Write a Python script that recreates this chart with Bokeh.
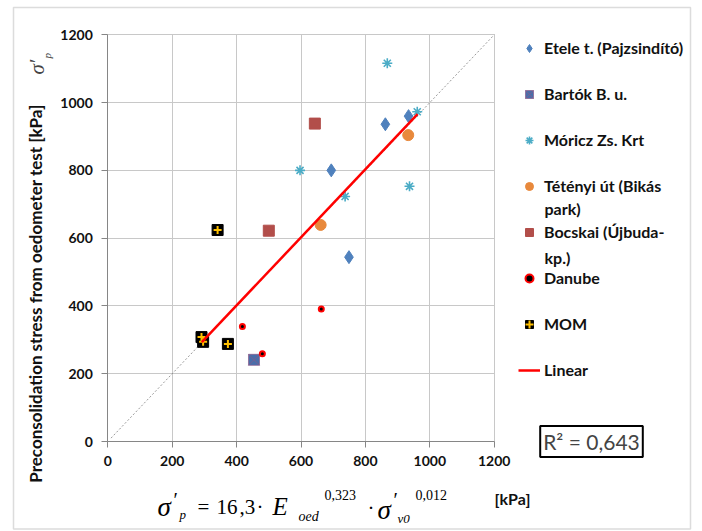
import math
from bokeh.plotting import figure
from bokeh.models import Label, Legend, LegendItem, FixedTicker, Range1d, BoxAnnotation
from bokeh.embed import file_html
from bokeh.resources import INLINE

# ---------------- data ----------------
x_ticks = [0, 200, 400, 600, 800, 1000, 1200]
y_ticks = [0, 200, 400, 600, 800, 1000, 1200]

etele_x = [694, 749, 862, 934]
etele_y = [800, 544, 936, 960]
bartok_x = [454]
bartok_y = [241]
moricz_x = [597, 737, 868, 937, 961]
moricz_y = [800, 723, 1116, 753, 973]
tetenyi_x = [661, 933]
tetenyi_y = [639, 904]
bocskai_x = [500, 643]
bocskai_y = [622, 938]
danube_x = [418, 480, 663]
danube_y = [339, 259, 391]
mom_x = [291, 296, 341, 373]
mom_y = [308, 294, 624, 288]
trend_x = [292, 962]
trend_y = [293, 966]
diag_x = [10, 1200]
diag_y = [10, 1200]

series_names = ["Etele t. (Pajzsindító)", "Bartók B. u.", "Móricz Zs. Krt",
                "Tétényi út (Bikás", "Bocskai (Újbuda-", "Danube", "MOM", "Linear"]
r2_text = "R² = 0,643"

# ---------------- layout (pixels) ----------------
W, H = 698, 530
X0, X1 = 107.3, 493.7     # pixel x of data 0 and 1200
Y0, Y1 = 441.0, 34.3      # pixel y of data 0 and 1200
KX = (X1 - X0) / 1200
KY = (Y0 - Y1) / 1200


def dx(px):
    return (px - X0) / KX


def dy(py):
    return (Y0 - py) / KY


FONT = "Lato"
SERIF = "Liberation Serif"
TXT = "#111111"

p = figure(output_backend="svg", toolbar_location=None, width=W, height=H,
           x_range=Range1d(dx(0), dx(W)), y_range=Range1d(dy(H), dy(0)),
           min_border=0, min_border_left=0, min_border_right=0,
           min_border_top=0, min_border_bottom=0)
p.outline_line_color = None
p.background_fill_color = "white"
p.border_fill_color = "white"

for ax, ticks in ((p.xaxis, x_ticks), (p.yaxis, y_ticks)):
    ax.ticker = FixedTicker(ticks=ticks)
    ax.fixed_location = 0
    ax.bounds = (0, 1200)
    ax.axis_line_color = "#868686"
    ax.axis_line_width = 1
    ax.major_tick_line_color = "#868686"
    ax.major_tick_out = 6
    ax.major_tick_in = 0
    ax.minor_tick_line_color = None
    ax.major_label_text_font = FONT
    ax.major_label_text_font_style = "bold"
    ax.major_label_text_font_size = "14px"
    ax.major_label_text_color = TXT
p.xaxis.major_label_standoff = 8
p.yaxis.major_label_standoff = 9

p.xgrid.ticker = FixedTicker(ticks=x_ticks)
p.ygrid.ticker = FixedTicker(ticks=y_ticks)
p.xgrid.bounds = (0, 1200)
p.ygrid.bounds = (0, 1200)
p.xgrid.cross_bounds = (0, 1200)
p.ygrid.cross_bounds = (0, 1200)
p.grid.grid_line_color = "#c8c8c8"
p.grid.grid_line_width = 1

# outer chart-area border
p.add_layout(BoxAnnotation(left=dx(13), right=dx(690), top=dy(7), bottom=dy(528.5),
                           fill_alpha=0, line_color="#8c8c8c", line_width=1.5,
                           level="underlay"))

# diagonal 1:1 line
p.line(diag_x, diag_y, line_color="#7f7f7f", line_width=0.8, line_dash="2 2")

# series
r_etele = p.scatter(etele_x, etele_y, marker="diamond", size=13,
                    fill_color="#4f81bd", line_color="#4f81bd")
r_bartok = p.scatter(bartok_x, bartok_y, marker="square_x", size=11,
                     fill_color="#4a6eaa", line_color="#8a5a8a", line_width=0.7)
r_moricz = p.scatter(moricz_x, moricz_y, marker="asterisk", size=10,
                     line_color="#4bacc6", line_width=1.6)
r_tet = p.scatter(tetenyi_x, tetenyi_y, marker="circle", size=11,
                  fill_color="#e8893c", line_color="#e8893c")
r_boc = p.scatter(bocskai_x, bocskai_y, marker="square", size=11,
                  fill_color="#b24e4a", line_color="#b24e4a")
r_dan = p.scatter(danube_x, danube_y, marker="circle", size=5,
                  fill_color="black", line_color="#ff0000", line_width=2)
r_mom1 = p.scatter(mom_x, mom_y, marker="square", size=11,
                   fill_color="black", line_color="black")
r_mom2 = p.scatter(mom_x, mom_y, marker="cross", size=8,
                   line_color="#ffc000", line_width=2)
r_lin = p.line(trend_x, trend_y, line_color="#ff0000", line_width=2.5)

items = [
    LegendItem(label=series_names[0], renderers=[r_etele]),
    LegendItem(label=series_names[1], renderers=[r_bartok]),
    LegendItem(label=series_names[2], renderers=[r_moricz]),
    LegendItem(label=series_names[3], renderers=[r_tet]),
    LegendItem(label=series_names[4], renderers=[r_boc]),
    LegendItem(label=series_names[5], renderers=[r_dan]),
    LegendItem(label=series_names[6], renderers=[r_mom1, r_mom2]),
    LegendItem(label=series_names[7], renderers=[r_lin]),
]
leg_top = 37.5
leg_h = 8 * 20 + 7 * 26
legend = Legend(items=items, location=(518, H - (leg_top + leg_h)),
                glyph_width=22, glyph_height=20,
                label_height=20, spacing=26, padding=0, margin=0,
                border_line_alpha=0, background_fill_alpha=0, label_standoff=4,
                label_text_font=FONT, label_text_font_style="bold",
                label_text_font_size="16px", label_text_color=TXT)
p.add_layout(legend)

# continuation lines of two-line legend labels
for txt, py in (("park)", 208), ("kp.)", 257)):
    p.add_layout(Label(x=dx(544), y=dy(py), text=txt, text_font=FONT,
                       text_font_style="bold", text_font_size="16px",
                       text_color=TXT, text_baseline="middle"))

# R² box
p.add_layout(Label(x=dx(591), y=dy(441), text=r2_text, text_font=FONT,
                   text_font_size="21px", text_align="center", text_baseline="middle",
                   border_line_color="black", border_line_width=2,
                   background_fill_color="white", padding=3))

# y axis title
p.add_layout(Label(x=dx(35), y=dy(293), text="Preconsolidation stress from oedometer test [kPa]",
                   angle=math.pi / 2, text_font=FONT, text_font_style="bold",
                   text_font_size="17px", text_align="center", text_baseline="middle",
                   text_color=TXT))
# rotated sigma'_p symbol
p.add_layout(Label(x=dx(36), y=dy(74), text="σ′", angle=math.pi / 2, text_font=SERIF,
                   text_font_style="italic", text_font_size="21px", text_baseline="alphabetic"))
p.add_layout(Label(x=dx(46), y=dy(58), text="p", angle=math.pi / 2, text_font=SERIF,
                   text_font_style="italic", text_font_size="11px", text_baseline="alphabetic"))

# bottom equation (text, left px, baseline px, size, style)
eq_parts = [
    ("σ", 157, 506, 27, "italic"),
    ("′", 173, 499, 20, "normal"),
    ("p", 179, 514, 13, "italic"),
    ("=", 197, 506, 21, "normal"),
    ("16", 216, 506, 21, "normal"),
    (",3", 239, 506, 21, "normal"),
    ("·", 256, 506, 21, "normal"),
    ("E", 272, 506, 25, "italic"),
    ("oed", 298, 516, 14, "italic"),
    ("0,323", 324, 494, 14, "normal"),
    ("·", 367, 507, 21, "normal"),
    ("σ", 377, 509, 27, "italic"),
    ("′", 393, 499, 20, "normal"),
    ("v0", 397, 518, 13, "italic"),
    ("0,012", 415, 494, 14, "normal"),
]
for txt, px, py, fs, st in eq_parts:
    p.add_layout(Label(x=dx(px), y=dy(py), text=txt, text_font=SERIF,
                       text_font_style=st, text_font_size=f"{fs}px",
                       text_baseline="alphabetic", text_color="black"))
p.add_layout(Label(x=dx(494), y=dy(498), text="[kPa]", text_font=FONT,
                   text_font_style="bold", text_font_size="16px",
                   text_baseline="alphabetic", text_color=TXT))

open("out.html", "w").write(file_html(p, INLINE))
